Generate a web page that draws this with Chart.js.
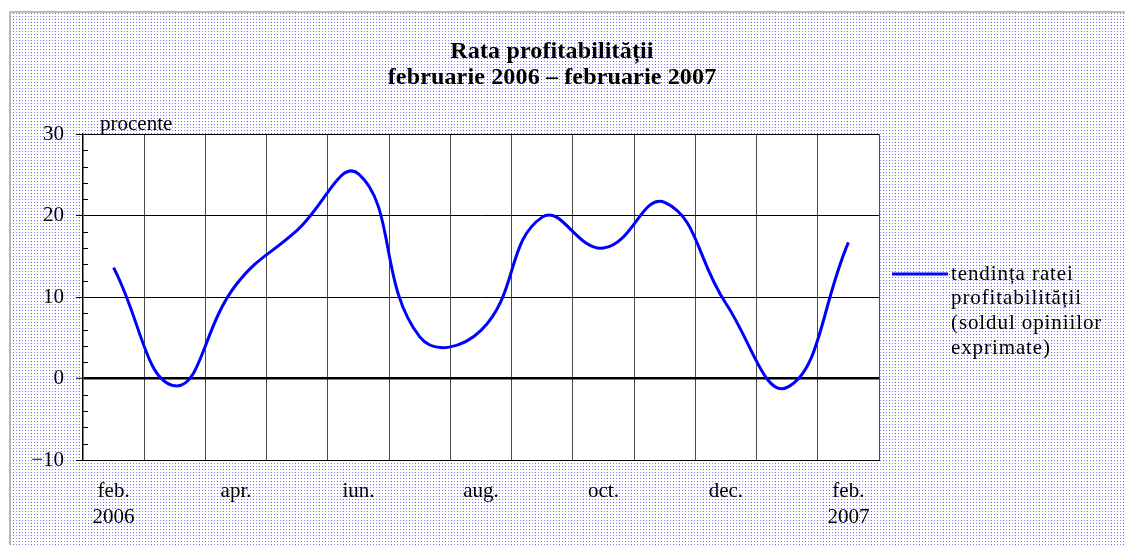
<!DOCTYPE html>
<html>
<head>
<meta charset="utf-8">
<script src="https://cdn.jsdelivr.net/npm/chart.js@4"></script>
<style>
  body { margin: 0; background: #fff; }
  #wrap { width: 1125px; height: 545px; }
</style>
</head>
<body>
<div id="wrap"><canvas id="c" width="1125" height="545"></canvas></div>
<script>
// data
var months = ['feb. 2006', 'mar. 2006', 'apr. 2006', 'mai 2006', 'iun. 2006', 'iul. 2006', 'aug. 2006',
  'sep. 2006', 'oct. 2006', 'nov. 2006', 'dec. 2006', 'ian. 2007', 'feb. 2007'];
var tickLabels = [['feb.', '2006'], '', 'apr.', '', 'iun.', '', 'aug.', '', 'oct.', '', 'dec.', '', ['feb.', '2007']];
var profitTrend = [13.6, -0.9, 11.5, 18.2, 25.1, 5.1, 5.9, 19.8, 16.0, 21.6, 9.2, -1.1, 16.7];
var yTicks = [-10, 0, 10, 20, 30];
var titleLines = ['Rata profitabilității', 'februarie 2006 – februarie 2007'];
var unitLabel = 'procente';
var seriesLabel = ['tendința ratei', 'profitabilității', '(soldul opiniilor', 'exprimate)'];

var serif = '"Liberation Serif", "Times New Roman", serif';

// dotted page background + white plot area
function makePattern(ctx) {
  var t = document.createElement('canvas');
  t.width = 6; t.height = 3;
  var tc = t.getContext('2d');
  tc.fillStyle = '#fff';
  tc.fillRect(0, 0, 6, 3);
  tc.fillStyle = '#5c5cff';
  tc.fillRect(1, 1, 1, 1);
  tc.fillStyle = '#8a8aff';
  tc.fillRect(4, 1, 1, 1);
  return ctx.createPattern(t, 'repeat');
}

var pagePlugin = {
  id: 'page',
  beforeDraw: function(chart) {
    var ctx = chart.ctx, a = chart.chartArea;
    ctx.save();
    ctx.fillStyle = '#fff';
    ctx.fillRect(0, 0, chart.width, chart.height);
    ctx.fillStyle = makePattern(ctx);
    ctx.fillRect(10, 12, chart.width - 10, chart.height - 12);
    ctx.strokeStyle = '#a8a8a8';
    ctx.lineWidth = 1.5;
    ctx.beginPath();
    ctx.moveTo(10, chart.height); ctx.lineTo(10, 12); ctx.lineTo(chart.width, 12);
    ctx.stroke();
    ctx.fillStyle = '#fff';
    ctx.fillRect(a.left, a.top, a.right - a.left, a.bottom - a.top);
    ctx.restore();
  },
  afterDraw: function(chart) {
    var ctx = chart.ctx, a = chart.chartArea, y = chart.scales.y;
    ctx.save();
    // minor ticks inside the plot
    ctx.strokeStyle = '#000';
    ctx.lineWidth = 1;
    ctx.beginPath();
    for (var v = -10; v <= 30; v += 2) {
      if (v % 10 === 0) continue;
      var py = Math.round(y.getPixelForValue(v)) + 0.5;
      ctx.moveTo(a.left, py); ctx.lineTo(a.left + 5, py);
    }
    ctx.stroke();

    // title
    ctx.fillStyle = '#000';
    ctx.textAlign = 'center';
    ctx.textBaseline = 'alphabetic';
    ctx.font = 'bold 24px ' + serif;
    ctx.letterSpacing = '0.15px';
    ctx.fillText(titleLines[0], 552, 58);
    ctx.fillText(titleLines[1], 552, 84);

    // unit
    ctx.textAlign = 'left';
    ctx.font = '21px ' + serif;
    ctx.letterSpacing = '0px';
    ctx.fillText(unitLabel, 100, 130);

    // legend
    var ds = chart.data.datasets[0];
    ctx.strokeStyle = ds.borderColor;
    ctx.lineWidth = 3;
    ctx.beginPath();
    ctx.moveTo(892, 274); ctx.lineTo(948, 274);
    ctx.stroke();
    ctx.textBaseline = 'middle';
    ctx.letterSpacing = '0.9px';
    seriesLabel.forEach(function(line, i) {
      ctx.fillText(line, 951, 274 + i * 24.7);
    });
    ctx.restore();
  }
};

new Chart(document.getElementById('c'), {
  type: 'line',
  data: {
    labels: months,
    datasets: [{
      label: seriesLabel.join(' '),
      data: profitTrend,
      borderColor: '#0000ff',
      borderWidth: 3,
      pointRadius: 0,
      tension: 0.45,
      fill: false
    }]
  },
  options: {
    responsive: false,
    animation: false,
    layout: { padding: { left: 0, top: 134, right: 246, bottom: 0 } },
    plugins: {
      legend: { display: false },
      title: { display: false },
      tooltip: { enabled: false }
    },
    scales: {
      x: {
        offset: true,
        grid: { offset: true, color: '#4a4a4a', lineWidth: 1, drawTicks: false },
        border: { display: true, color: '#000', width: 1 },
        ticks: {
          autoSkip: false,
          maxRotation: 0,
          padding: 18,
          color: '#000',
          font: { family: serif, size: 21, lineHeight: 1.25 },
          callback: function(val, i) { return tickLabels[i]; }
        },
        afterFit: function(s) { s.height = 85; }
      },
      y: {
        min: -10,
        max: 30,
        afterBuildTicks: function(s) { s.ticks = yTicks.map(function(v) { return { value: v }; }); },
        grid: {
          color: '#000',
          lineWidth: function(c) { return c.tick && c.tick.value === 0 ? 2.5 : 1; },
          tickLength: 7,
          tickColor: '#000',
          tickWidth: 1
        },
        border: { display: true, color: '#000', width: 1.5 },
        ticks: {
          padding: 12,
          color: '#000',
          font: { family: serif, size: 21 },
          callback: function(v) { return v < 0 ? '\u2212' + Math.abs(v) : String(v); }
        },
        afterFit: function(s) { s.width = 83; }
      }
    }
  },
  plugins: [pagePlugin]
});
</script>
</body>
</html>
